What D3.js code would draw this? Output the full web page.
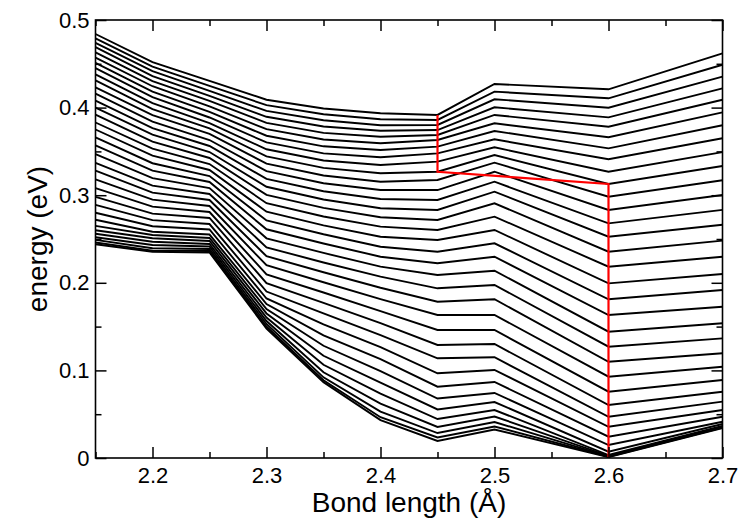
<!DOCTYPE html>
<html><head><meta charset="utf-8">
<script src="https://cdn.jsdelivr.net/npm/d3@7/dist/d3.min.js"></script>
<style>
html,body{margin:0;padding:0;background:#fff}
svg{display:block}
text{font-family:"Liberation Sans",Arial,Helvetica,sans-serif;fill:#000}
</style>
</head><body>
<svg id="chart" width="745" height="524"></svg>
<script>
// Bond lengths (Å) at which the energy levels were computed
const bondLengths = [2.15, 2.2, 2.25, 2.3, 2.35, 2.4, 2.45, 2.5, 2.6, 2.7];

// Energy levels (eV) at each bond length, listed from lowest to highest level
const e215 = [0.244,0.246,0.249,0.252,0.256,0.260,0.265,0.272,0.280,0.289,0.298,0.308,0.318,0.328,0.337,0.347,0.357,0.366,0.375,0.383,0.392,0.400,0.408,0.416,0.423,0.431,0.438,0.445,0.451,0.457,0.463,0.469,0.474,0.479,0.484];
const e220 = [0.2355,0.2367,0.2394,0.2432,0.2469,0.2508,0.2546,0.2583,0.2646,0.2715,0.2789,0.2869,0.2949,0.3029,0.3109,0.3194,0.3280,0.3365,0.3451,0.3531,0.3611,0.3691,0.3765,0.3839,0.3913,0.3982,0.4050,0.4119,0.4182,0.4244,0.4302,0.4359,0.4416,0.4467,0.4518];
const e225 = [0.2346,0.2363,0.2386,0.2414,0.2443,0.2477,0.2512,0.2551,0.2609,0.2671,0.2740,0.2808,0.2877,0.2945,0.3014,0.3082,0.3151,0.3219,0.3288,0.3356,0.3425,0.3493,0.3562,0.3630,0.3699,0.3762,0.3824,0.3887,0.3950,0.4013,0.4076,0.4133,0.4190,0.4247,0.4304];
const e230 = [0.1478,0.1501,0.1530,0.1564,0.1604,0.1650,0.1701,0.1758,0.1821,0.1900,0.1997,0.2097,0.2200,0.2303,0.2405,0.2508,0.2611,0.2712,0.2812,0.2909,0.3004,0.3096,0.3186,0.3274,0.3360,0.3443,0.3524,0.3603,0.3679,0.3754,0.3826,0.3895,0.3963,0.4028,0.4090];
const e235 = [0.0866,0.0887,0.0921,0.0978,0.1064,0.1167,0.1281,0.1401,0.1526,0.1650,0.1771,0.1889,0.2006,0.2120,0.2232,0.2341,0.2449,0.2554,0.2656,0.2757,0.2855,0.2951,0.3045,0.3136,0.3225,0.3312,0.3396,0.3478,0.3558,0.3636,0.3711,0.3784,0.3855,0.3924,0.3990];
const e240 = [0.0432,0.0466,0.0529,0.0620,0.0734,0.0860,0.0991,0.1128,0.1265,0.1402,0.1539,0.1676,0.1813,0.1944,0.2070,0.2184,0.2298,0.2412,0.2526,0.2641,0.2748,0.2851,0.2957,0.3059,0.3154,0.3250,0.3345,0.3433,0.3516,0.3593,0.3668,0.3736,0.3798,0.3867,0.3935];
const e245 = [0.0194,0.0234,0.0285,0.0354,0.0445,0.0554,0.0679,0.0814,0.0967,0.1138,0.1290,0.1461,0.1633,0.1784,0.1937,0.2089,0.2223,0.2355,0.2489,0.2603,0.2717,0.2831,0.2945,0.3059,0.3174,0.3268,0.3383,0.3478,0.3554,0.3630,0.3687,0.3744,0.3802,0.3859,0.3916];
const e250 = [0.0325,0.0360,0.0411,0.0474,0.0548,0.0639,0.0742,0.0868,0.1005,0.1150,0.1301,0.1461,0.1633,0.1812,0.1975,0.2138,0.2298,0.2451,0.2603,0.2755,0.2908,0.3040,0.3154,0.3268,0.3371,0.3459,0.3547,0.3638,0.3733,0.3821,0.3916,0.4004,0.4095,0.4182,0.4270];
const e260 = [0.0010,0.0014,0.0019,0.0025,0.0034,0.0072,0.0148,0.0243,0.0357,0.0471,0.0605,0.0757,0.0928,0.1099,0.1271,0.1442,0.1632,0.1812,0.1994,0.2184,0.2355,0.2526,0.2679,0.2831,0.2983,0.3128,0.3268,0.3410,0.3535,0.3661,0.3782,0.3889,0.3999,0.4106,0.4209];
const e270 = [0.0342,0.0347,0.0352,0.0357,0.0365,0.0388,0.0414,0.0471,0.0548,0.0643,0.0757,0.0890,0.1042,0.1195,0.1366,0.1538,0.1727,0.1918,0.2101,0.2298,0.2481,0.2663,0.2833,0.3002,0.3171,0.3333,0.3491,0.3650,0.3798,0.3946,0.4090,0.4220,0.4353,0.4489,0.4620];

// Highlighted (red) path: [bond length, energy]
const redBond   = [2.45, 2.45, 2.6, 2.6];
const redEnergy = [0.3916, 0.3268, 0.3128, 0.001];

// Axis ticks
const xMajorTicks = [2.2, 2.3, 2.4, 2.5, 2.6, 2.7];
const xMinorTicks = [2.15, 2.25, 2.35, 2.45, 2.55, 2.65];
const yMajorTicks = [0, 0.1, 0.2, 0.3, 0.4, 0.5];
const yMinorTicks = [0.05, 0.15, 0.25, 0.35, 0.45];
const xLabel = "Bond length (Å)";
const yLabel = "energy (eV)";

const levels = [e215, e220, e225, e230, e235, e240, e245, e250, e260, e270];

const m = {left: 95.5, right: 722.5, top: 20, bottom: 458};
const svg = d3.select("#chart");

const x = d3.scaleLinear().domain([2.15, 2.7]).range([m.left, m.right]);
const y = d3.scaleLinear().domain([0, 0.5]).range([m.bottom, m.top]);

svg.append("defs").append("clipPath").attr("id", "clip")
  .append("rect").attr("x", m.left).attr("y", m.top)
  .attr("width", m.right - m.left).attr("height", m.bottom - m.top);

const line = d3.line().x(d => x(d[0])).y(d => y(d[1]));
const nLevels = e215.length;
const series = d3.range(nLevels).map(k => bondLengths.map((b, i) => [b, levels[i][k]]));

const g = svg.append("g").attr("clip-path", "url(#clip)");
g.selectAll("path.lv").data(series).join("path")
  .attr("class", "lv")
  .attr("d", line)
  .attr("fill", "none")
  .attr("stroke", "#000")
  .attr("stroke-width", 1.9)
  .attr("stroke-linejoin", "miter");

g.append("path")
  .attr("d", line(redBond.map((b, i) => [b, redEnergy[i]])))
  .attr("fill", "none").attr("stroke", "#ff0000").attr("stroke-width", 2.2);

// axes (ticks inside the frame)
const fs = 22;
function styleAxis(sel) {
  sel.select(".domain").remove();
  sel.selectAll(".tick line").attr("stroke", "#000").attr("stroke-width", 1.5);
  sel.selectAll("text").style("font-size", fs + "px").attr("fill", "#000");
}
svg.append("g").attr("transform", `translate(0,${m.bottom})`)
  .call(d3.axisBottom(x).tickValues(xMajorTicks).tickSize(-11).tickPadding(9).tickFormat(d3.format(".1f")))
  .call(styleAxis);
svg.append("g").attr("transform", `translate(0,${m.bottom})`)
  .call(d3.axisBottom(x).tickValues(xMinorTicks).tickSize(-6).tickFormat(""))
  .call(styleAxis);
svg.append("g").attr("transform", `translate(0,${m.top})`)
  .call(d3.axisTop(x).tickValues(xMajorTicks).tickSize(-11).tickFormat(""))
  .call(styleAxis);
svg.append("g").attr("transform", `translate(0,${m.top})`)
  .call(d3.axisTop(x).tickValues(xMinorTicks).tickSize(-6).tickFormat(""))
  .call(styleAxis);
svg.append("g").attr("transform", `translate(${m.left},0)`)
  .call(d3.axisLeft(y).tickValues(yMajorTicks).tickSize(-11).tickPadding(6)
    .tickFormat(d => d === 0 ? "0" : d3.format(".1f")(d)))
  .call(styleAxis);
svg.append("g").attr("transform", `translate(${m.left},0)`)
  .call(d3.axisLeft(y).tickValues(yMinorTicks).tickSize(-6).tickFormat(""))
  .call(styleAxis);
svg.append("g").attr("transform", `translate(${m.right},0)`)
  .call(d3.axisRight(y).tickValues(yMajorTicks).tickSize(-11).tickFormat(""))
  .call(styleAxis);
svg.append("g").attr("transform", `translate(${m.right},0)`)
  .call(d3.axisRight(y).tickValues(yMinorTicks).tickSize(-6).tickFormat(""))
  .call(styleAxis);

svg.append("rect")
  .attr("x", m.left).attr("y", m.top)
  .attr("width", m.right - m.left).attr("height", m.bottom - m.top)
  .attr("fill", "none").attr("stroke", "#000").attr("stroke-width", 1.6);

svg.append("text")
  .attr("x", (m.left + m.right) / 2).attr("y", 512)
  .attr("text-anchor", "middle").style("font-size", "28px")
  .text(xLabel);
svg.append("text")
  .attr("transform", `translate(47,${(m.top + m.bottom) / 2}) rotate(-90)`)
  .attr("text-anchor", "middle").style("font-size", "28px")
  .text(yLabel);
</script>
</body></html>
